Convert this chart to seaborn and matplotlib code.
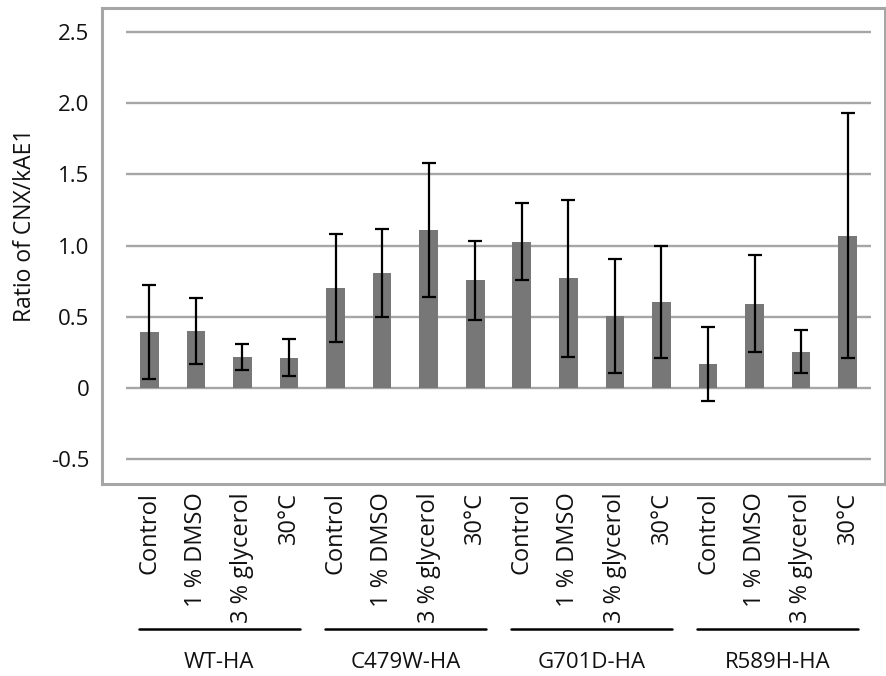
import matplotlib
matplotlib.use("Agg")
import matplotlib.pyplot as plt
import seaborn as sns
import pandas as pd
import numpy as np

# ---- data ----
groups = ["WT-HA", "C479W-HA", "G701D-HA", "R589H-HA"]
conditions = ["Control", "1 % DMSO", "3 % glycerol", "30°C"]
wt_mean = [0.395, 0.40, 0.215, 0.21]
c479w_mean = [0.70, 0.805, 1.11, 0.755]
g701d_mean = [1.028, 0.77, 0.503, 0.603]
r589h_mean = [0.17, 0.592, 0.255, 1.07]
wt_err = [0.33, 0.23, 0.09, 0.13]
c479w_err = [0.38, 0.31, 0.47, 0.28]
g701d_err = [0.27, 0.55, 0.40, 0.39]
r589h_err = [0.26, 0.34, 0.15, 0.86]
y_ticks = [-0.5, 0, 0.5, 1.0, 1.5, 2.0, 2.5]
y_tick_labels = ["-0.5", "0", "0.5", "1.0", "1.5", "2.0", "2.5"]
y_label = "Ratio of CNX/kAE1"

means = [wt_mean, c479w_mean, g701d_mean, r589h_mean]
errs = [wt_err, c479w_err, g701d_err, r589h_err]
rows = []
for g, m, e in zip(groups, means, errs):
    for c, mv, ev in zip(conditions, m, e):
        rows.append({"key": f"{g}|{c}", "group": g, "cond": c, "value": mv, "err": ev})
df = pd.DataFrame(rows)

sns.set_theme(style="white")
plt.rcParams["font.family"] = ["Open Sans", "DejaVu Sans"]

W, H = 886, 676
fig = plt.figure(figsize=(W / 100, H / 100), dpi=100)

# axes = grey frame box (pixels 102..885 x 8..484)
bx0, bx1, by0, by1 = 102, 885, 8, 484
ax = fig.add_axes([bx0 / W, 1 - by1 / H, (bx1 - bx0) / W, (by1 - by0) / H])

sns.barplot(data=df, x="key", y="value", color="#777777", saturation=1,
            width=0.4, errorbar=None, edgecolor="none", ax=ax, zorder=3)
xpos = np.arange(len(df))
ax.errorbar(xpos, df["value"], yerr=df["err"], fmt="none", ecolor="black",
            elinewidth=1.6, capsize=5, capthick=1.6, zorder=4)

# data -> pixel mapping: grid spans x 126..871, y 2.5 at 32, -0.5 at 459
px_per_cat = (871 - 126) / 16
px_per_unit = (459 - 32) / 3
xlo = -0.5 - (126 - bx0) / px_per_cat
xhi = 15.5 + (bx1 - 871) / px_per_cat
yhi = 2.5 + (32 - by0) / px_per_unit
ylo = -0.5 - (by1 - 459) / px_per_unit
ax.set_xlim(xlo, xhi)
ax.set_ylim(ylo, yhi)

ax.hlines(y_ticks, -0.5, 15.5, colors="#A6A6A6", linewidth=1.7, zorder=1)

for s in ax.spines.values():
    s.set_visible(True)
    s.set_color("#A6A6A6")
    s.set_linewidth(2.2)

ax.set_yticks(y_ticks)
ax.set_yticklabels(y_tick_labels, fontsize=16, color="#111111")
ax.set_xticks(xpos)
ax.set_xticklabels(df["cond"], rotation=90, fontsize=17, color="#111111")
ax.tick_params(axis="both", length=0)
ax.tick_params(axis="y", pad=9)
ax.tick_params(axis="x", pad=6)
ax.set_xlabel("")
ax.set_ylabel("")

fig.text(25 / W, 1 - 225 / H, y_label, rotation=90, ha="center", va="center",
         fontsize=16.5, color="#111111")

# group lines and labels
def ypix_to_axes(yp):
    return (by1 - yp) / (by1 - by0)

trans = ax.get_xaxis_transform()
inset = 0.27
for gi, g in enumerate(groups):
    x0 = gi * 4 - 0.5 + inset
    x1 = gi * 4 + 3.5 - inset
    ax.plot([x0, x1], [ypix_to_axes(629)] * 2, color="black", linewidth=1.8,
            transform=trans, clip_on=False)
    ax.text(gi * 4 + 1.5, ypix_to_axes(663), g, transform=trans, ha="center",
            va="center", fontsize=16, color="#111111")

fig.savefig("out.png", dpi=100)
